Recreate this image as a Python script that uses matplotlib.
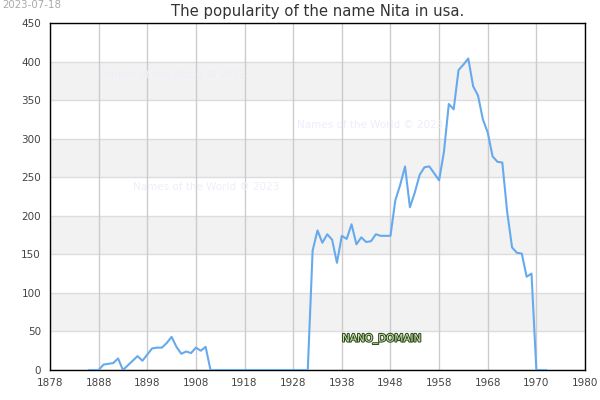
import matplotlib
matplotlib.use("Agg")
import matplotlib.pyplot as plt
import matplotlib.patheffects as pe

years = list(range(1886, 1981))
values = [
    0, 0, 0, 7, 8, 9, 15, 0, 6, 12,          # 1886-1895
    18, 12, 20, 28, 29, 29, 35, 43, 30, 21,  # 1896-1905
    24, 22, 29, 25, 30, 0, 0, 0, 0, 0,       # 1906-1915
    0, 0, 0, 0, 0, 0, 0, 0, 0, 0,            # 1916-1925
    0, 0, 0, 0, 0, 0, 155, 181, 165, 176,    # 1926-1935
    169, 139, 174, 170, 189, 163, 172, 166, 167, 176,  # 1936-1945
    174, 174, 174, 220, 240, 264, 211, 230, 253, 263,  # 1946-1955
    264, 255, 246, 283, 345, 338, 389, 396, 404, 368,  # 1956-1965
    356, 325, 308, 277, 270, 269, 205, 159, 152, 151,  # 1966-1975
    121, 125, 0, 0, 0,                                  # 1976-1980
]
tick_pos = list(range(1878, 1989, 10))
tick_labels = ["1878", "1888", "1898", "1908", "1918", "1928", "1938",
               "1948", "1958", "1968", "1970", "1980"]
y_ticks = list(range(0, 451, 50))

fig = plt.figure(figsize=(6, 4), dpi=100)
ax = fig.add_axes([50/600, 30/400, 535/600, 347/400])

for lo in (50, 150, 250, 350):
    ax.axhspan(lo, lo + 50, color="#f2f2f2", zorder=0, lw=0)
for y in y_ticks:
    ax.axhline(y, color="#dddddd", lw=1, zorder=1)
for x in tick_pos:
    ax.axvline(x, color="#cccccc", lw=1, zorder=1)

ax.plot(years, values, color="#66aaee", lw=1.5, zorder=3)

ax.set_xlim(1878, 1988)
ax.set_ylim(0, 450)
ax.set_xticks(tick_pos)
ax.set_xticklabels(tick_labels)
ax.set_yticks(y_ticks)
ax.tick_params(length=0, labelsize=7.5, colors="#444444")
ax.tick_params(axis="x", pad=5.5)
ax.tick_params(axis="y", pad=6.5)
for s in ax.spines.values():
    s.set_color("black")
    s.set_linewidth(1)

ax.set_title("The popularity of the name Nita in usa.", fontsize=10.7,
             color="#333333", pad=5)
fig.text(2/600, 1 - 5/400, "2023-07-18", fontsize=7.4, color="#aaaaaa",
         va="center", ha="left")

wm = "Names of the World © 2023"
for (px, py) in [(100, 75), (297, 125), (133, 187)]:
    fig.text(px/600, 1 - py/400, wm, fontsize=7.5, color="#eeeefa",
             va="center", ha="left", zorder=2)

t = fig.text(342/600, 1 - 339/400, "NANO_DOMAIN", fontsize=7.5,
             color="#cfe6b0", va="center", ha="left", zorder=5)
t.set_path_effects([pe.Stroke(linewidth=1.5, foreground="#2e4a1e"), pe.Normal()])

fig.savefig("out.png", dpi=100)
